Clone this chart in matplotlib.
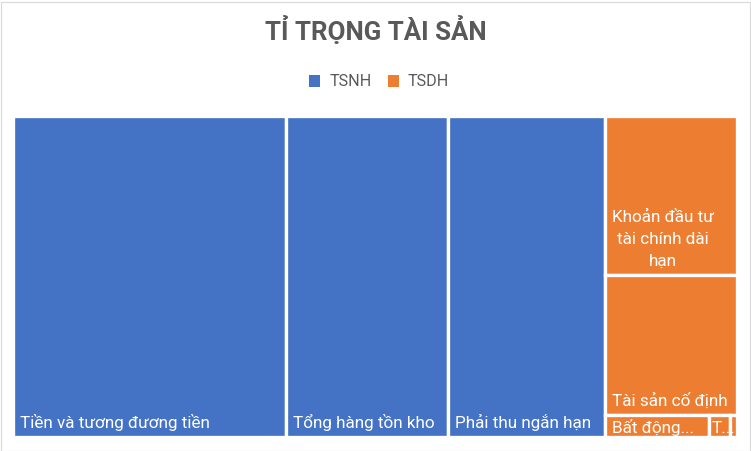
import matplotlib
matplotlib.use('Agg')
import matplotlib.pyplot as plt
from matplotlib.patches import Rectangle

# Data (percent of total assets)
# -------------------------------------------------------------
groups = ['TSNH', 'TSDH']
group_colors = ['#4472C4', '#ED7D31']

tsnh_names = ['Tiền và tương đương tiền', 'Tổng hàng tồn kho', 'Phải thu ngắn hạn']
tsnh_values = [37.7, 22.4, 21.7]

tsdh_names = ['Khoản đầu tư tài chính dài hạn', 'Tài sản cố định',
              'Bất động sản đầu tư', 'Tài sản dài hạn khác', 'Tài sản dở dang dài hạn']
tsdh_values = [9.04, 7.93, 0.985, 0.20, 0.062]
# -------------------------------------------------------------

title_text = 'TỈ TRỌNG TÀI SẢN'
fam = ['Roboto', 'DejaVu Sans']
grey = '#595959'
fs = 12.3

fig = plt.figure(figsize=(7.51, 4.51), dpi=100)
fig.patches.append(Rectangle((0.5 / 751, 0.5 / 451), 749 / 751, 449 / 451, transform=fig.transFigure,
                             fill=False, edgecolor='#D9D9D9', linewidth=0.8))

ax = fig.add_axes([12.5 / 751, 14 / 451, 724.5 / 751, 321.5 / 451])
total = sum(tsnh_values) + sum(tsdh_values)
ax.set_xlim(0, total)
ax.set_ylim(0, 1)
ax.axis('off')

# layout: TSNH items as full-height columns, TSDH column split in rows,
# the small items share the bottom row
cells = []
x = 0
for name, v in zip(tsnh_names, tsnh_values):
    cells.append((name, x, 0, v, 1, group_colors[0]))
    x += v

col_w = sum(tsdh_values)
y = 1
for name, v in zip(tsdh_names[:2], tsdh_values[:2]):
    h = v / col_w
    cells.append((name, x, y - h, col_w, h, group_colors[1]))
    y -= h
rest = sum(tsdh_values[2:])
row_h = rest / col_w
xx = x
for name, v in zip(tsdh_names[2:], tsdh_values[2:]):
    w = v / rest * col_w
    cells.append((name, xx, 0, w, row_h, group_colors[1]))
    xx += w

fig.canvas.draw()
renderer = fig.canvas.get_renderer()


def text_w(s):
    t = ax.text(0, 0, s, fontsize=fs, family=fam)
    w = t.get_window_extent(renderer).width
    t.remove()
    return w


for name, cx, cy, w, h, color in cells:
    rect = Rectangle((cx, cy), w, h, facecolor=color, edgecolor='white', linewidth=2.4)
    ax.add_patch(rect)
    p0 = ax.transData.transform((cx, cy))
    p1 = ax.transData.transform((cx + w, cy + h))
    full_w = p1[0] - p0[0]
    hpx = p1[1] - p0[1]
    if full_w < 12:
        continue
    pad = 7 if full_w > 40 else 2
    wpx = full_w - 2 * pad
    label = name
    if text_w(label) > wpx:
        if hpx > 60:
            # wrap words
            lines, cur = [], ''
            for word in name.split():
                test = (cur + ' ' + word).strip()
                if text_w(test) <= wpx or not cur:
                    cur = test
                else:
                    lines.append(cur)
                    cur = word
            lines.append(cur)
            label = '\n'.join(lines)
        else:
            # drop whole words first, then characters
            words = name.split()
            while len(words) > 1 and text_w(' '.join(words) + '...') > wpx:
                words = words[:-1]
            s = ' '.join(words)
            while len(s) > 1 and text_w(s + '...') > wpx:
                s = s[:-1]
            label = s + '...'
    yoff = 6.5 if hpx > 30 else 2.6
    ax.annotate(label, (cx, cy), xytext=(pad * 0.72, yoff), textcoords='offset points',
                ha='left', va='baseline', multialignment='center',
                color='white', fontsize=fs, family=fam, linespacing=1.6)

fig.text(0.5, 1 - 30 / 451, title_text, ha='center', va='center',
         fontsize=18.6, fontweight='bold', color=grey, family=fam)

handles = [Rectangle((0, 0), 1, 1, facecolor=c) for c in group_colors]
fig.legend(handles, groups, loc='center', bbox_to_anchor=(379 / 751, 1 - 82 / 451),
           ncol=2, frameon=False, labelcolor=grey,
           handlelength=0.7, handleheight=0.7, handletextpad=0.55, columnspacing=1.0,
           prop={'family': fam, 'size': 11.6})

fig.savefig('out.png', dpi=100)
